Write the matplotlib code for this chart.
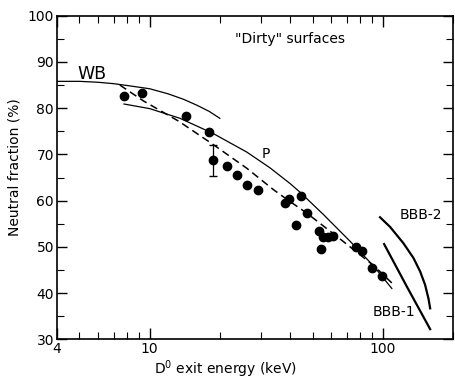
import matplotlib
matplotlib.use('Agg')
import matplotlib.pyplot as plt
from matplotlib.ticker import FixedLocator, NullFormatter

# measured points
energy = [7.76, 9.27, 14.3, 17.97, 18.7, 21.5, 23.7, 26.2, 29.2, 38.0, 39.7,
          44.5, 42.3, 47.2, 53.1, 55.6, 58.4, 61.4, 54.3, 76.8, 81.2, 90.2, 99.6]
fraction = [82.7, 83.3, 78.4, 74.9, 68.7, 67.4, 65.6, 63.3, 62.2, 59.4, 60.3,
            61.0, 54.7, 57.4, 53.5, 52.2, 52.2, 52.3, 49.5, 49.9, 49.1, 45.5, 43.8]
err_x = 18.7
err_y = 68.7
err_size = 3.3

# theory curves
wb_x = [4.0, 5.0, 6.0, 7.0, 8.0, 10.0, 12.0, 14.0, 16.0, 18.0, 20.0]
wb_y = [85.8, 85.8, 85.6, 85.3, 84.9, 84.2, 83.1, 81.9, 80.6, 79.3, 77.8]

p_x = [7.76, 10.0, 13.5, 18.75, 26.1, 32.8, 40.0, 44.2, 55.6, 72.4, 91.1, 109.3]
p_y = [80.9, 79.9, 77.8, 74.5, 70.5, 67.1, 63.7, 61.8, 57.0, 51.2, 45.9, 41.0]

dash_x = [7.45, 9.38, 13.3, 18.4, 26.1, 33.9, 38.7, 47.2, 65.6, 91.1, 109.3]
dash_y = [85.0, 81.6, 77.2, 72.4, 67.0, 62.4, 60.3, 57.3, 51.7, 46.0, 42.2]

bbb2_x = [97.3, 107.5, 122.5, 135.3, 144.5, 151.8, 157.0, 159.6]
bbb2_y = [56.4, 54.3, 50.8, 47.6, 44.7, 41.8, 38.8, 36.7]

bbb1_x = [101.3, 126.8, 159.6]
bbb1_y = [50.6, 41.4, 32.2]

x_major = [4, 10, 100]
x_minor = [5, 6, 7, 8, 9, 20, 30, 40, 50, 60, 70, 80, 90, 200]
y_major = [30, 40, 50, 60, 70, 80, 90, 100]
y_minor = [35, 45, 55, 65, 75, 85, 95]

fig = plt.figure(figsize = (4.55, 3.79), dpi = 100)
ax = fig.add_axes([0.125, 0.1047, 0.8706, 0.8539])

ax.plot(wb_x, wb_y, color = 'black', lw = 0.9)
ax.plot(p_x, p_y, color = 'black', lw = 0.9)
ax.plot(dash_x, dash_y, color = 'black', lw = 1.1, dashes = (5, 3))
ax.plot(bbb2_x, bbb2_y, color = 'black', lw = 1.6)
ax.plot(bbb1_x, bbb1_y, color = 'black', lw = 1.6)
ax.plot(energy, fraction, 'o', color = 'black', ms = 6)
ax.errorbar([err_x], [err_y], yerr = [err_size], fmt = 'none',
            ecolor = 'black', elinewidth = 0.9, capsize = 3)

ax.text(4.88, 87.4, 'WB', fontsize = 12.5, va = 'center')
ax.text(31.5, 70.0, 'P', fontsize = 10, ha = 'center', va = 'center')
ax.text(118.6, 56.9, 'BBB-2', fontsize = 10, va = 'center')
ax.text(90.8, 36.0, 'BBB-1', fontsize = 10, va = 'center')
ax.text(40, 94.9, '"Dirty" surfaces', fontsize = 10, ha = 'center', va = 'center')

ax.set_xscale('log')
ax.set_xlim(4, 200)
ax.set_ylim(30, 100)

ax.xaxis.set_major_locator(FixedLocator(x_major))
ax.xaxis.set_minor_locator(FixedLocator(x_minor))
ax.set_xticklabels([str(v) for v in x_major])
ax.xaxis.set_minor_formatter(NullFormatter())
ax.yaxis.set_major_locator(FixedLocator(y_major))
ax.yaxis.set_minor_locator(FixedLocator(y_minor))

ax.tick_params(which = 'both', direction = 'in', top = True, right = True,
               labelsize = 10, pad = 2)
ax.tick_params(axis = 'x', which = 'major', length = 8, width = 1)
ax.tick_params(axis = 'x', which = 'minor', length = 5, width = 0.8)
ax.tick_params(axis = 'y', which = 'major', length = 7, width = 1)
ax.tick_params(axis = 'y', which = 'minor', length = 5, width = 0.8)
for s in ax.spines.values():
    s.set_linewidth(1.2)

fig.text(225 / 455, 1 - 369 / 379, 'D$^{0}$ exit energy (keV)', fontsize = 10,
         ha = 'center', va = 'center')
fig.text(15 / 455, 1 - 167 / 379, 'Neutral fraction (%)', fontsize = 10,
         ha = 'center', va = 'center', rotation = 90)

fig.savefig('out.png', dpi = 100)
